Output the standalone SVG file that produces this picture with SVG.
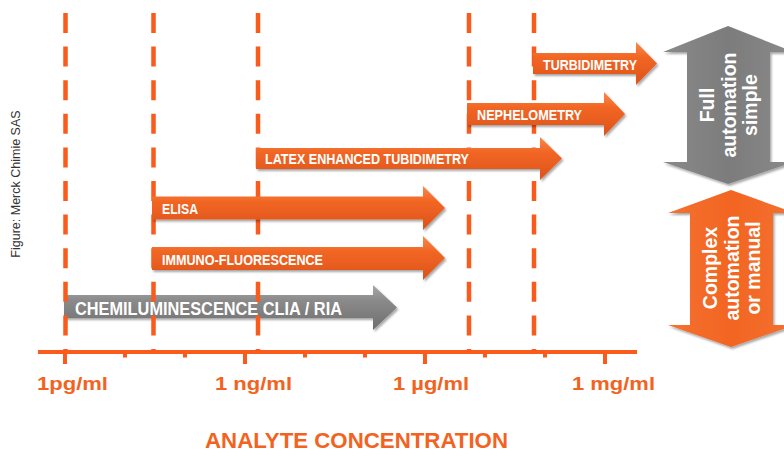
<svg xmlns="http://www.w3.org/2000/svg" width="784" height="452" viewBox="0 0 784 452">
<defs>
<linearGradient id="og" x1="0" y1="0" x2="0" y2="1">
<stop offset="0" stop-color="#F9894A"/>
<stop offset="0.35" stop-color="#F26624"/>
<stop offset="1" stop-color="#DD521A"/>
</linearGradient>
<linearGradient id="gg" x1="0" y1="0" x2="0" y2="1">
<stop offset="0" stop-color="#A8A8A8"/>
<stop offset="0.35" stop-color="#8A8A8A"/>
<stop offset="1" stop-color="#6E6E6E"/>
</linearGradient>
<linearGradient id="bg" x1="0" y1="0" x2="1" y2="0">
<stop offset="0" stop-color="#8A8A8A"/>
<stop offset="0.5" stop-color="#7C7C7C"/>
<stop offset="1" stop-color="#8A8A8A"/>
</linearGradient>
<linearGradient id="bo" x1="0" y1="0" x2="1" y2="0">
<stop offset="0" stop-color="#F47130"/>
<stop offset="0.5" stop-color="#F26522"/>
<stop offset="1" stop-color="#F47130"/>
</linearGradient>
<filter id="sh" x="-5%" y="-20%" width="110%" height="150%">
<feDropShadow dx="1.5" dy="2" stdDeviation="1.2" flood-color="#000" flood-opacity="0.35"/>
</filter>
</defs>
<style>
.dash{stroke:#F95B1C;stroke-width:4.5;stroke-dasharray:20 13.6;fill:none}
.axis{stroke:#F95B1C;stroke-width:4;fill:none}
.tick{stroke:#F95B1C;stroke-width:4;fill:none}
.oarrow{fill:url(#og);filter:url(#sh)}
.garrow{fill:url(#gg);filter:url(#sh)}
.lbl{font-family:"Liberation Sans",Arial,sans-serif;font-weight:bold;fill:#FFFFFF}
.ax{font-family:"Liberation Sans",Arial,sans-serif;font-weight:bold;fill:#F26322;font-size:17.5px}
.big{font-family:"Liberation Sans",Arial,sans-serif;font-weight:bold;fill:#FFFFFF;font-size:19.5px}
</style>
<rect width="784" height="452" fill="#FFFFFF"/>

<text x="0" y="0" transform="translate(19.5,184) rotate(-90)" text-anchor="middle" font-family="Liberation Sans, Arial, sans-serif" font-size="12.5" fill="#333333">Figure: Merck Chimie SAS</text>

<g id="chemiluminescence">
<polygon class="garrow" points="64,295 373,295 373,285 397,307.5 373,330 373,318 64,318"/>
<text class="lbl" x="75" y="315" font-size="18" textLength="267" lengthAdjust="spacingAndGlyphs">CHEMILUMINESCENCE CLIA / RIA</text>
</g>

<g id="connectors">
<line class="dash" x1="65.5" y1="13" x2="65.5" y2="351"/>
<line class="dash" x1="153.5" y1="13" x2="153.5" y2="351"/>
<line class="dash" x1="258" y1="13" x2="258" y2="351"/>
<line class="dash" x1="469" y1="13" x2="469" y2="351"/>
<line class="dash" x1="534" y1="13" x2="534" y2="351"/>
<line class="axis" x1="38" y1="352" x2="637" y2="352"/>
<path class="tick" d="M65,352V364M245,352V364M425,352V364M605,352V364"/>
<path class="tick" d="M125,352V357.5M185,352V357.5M305,352V357.5M365,352V357.5M485,352V357.5M545,352V357.5"/>
</g>

<g id="turbidimetry">
<polygon class="oarrow" points="533,53 636,53 636,42 657,63.5 636,85 636,74 533,74"/>
<text class="lbl" x="543" y="69.5" font-size="14.5" textLength="94" lengthAdjust="spacingAndGlyphs">TURBIDIMETRY</text>
</g>
<g id="nephelometry">
<polygon class="oarrow" points="467,103 604,103 604,92 625,114 604,136 604,125 467,125"/>
<text class="lbl" x="477" y="119.5" font-size="14.5" textLength="105" lengthAdjust="spacingAndGlyphs">NEPHELOMETRY</text>
</g>
<g id="latex">
<polygon class="oarrow" points="256,148 540,148 540,137 562,158.5 540,180 540,169 256,169"/>
<text class="lbl" x="265" y="164" font-size="14.5" textLength="204" lengthAdjust="spacingAndGlyphs">LATEX ENHANCED TUBIDIMETRY</text>
</g>
<g id="elisa">
<polygon class="oarrow" points="152,196.5 423,196.5 423,186 445,208 423,230 423,219.5 152,219.5"/>
<text class="lbl" x="162" y="214" font-size="14.5" textLength="36" lengthAdjust="spacingAndGlyphs">ELISA</text>
</g>
<g id="immunofluorescence">
<polygon class="oarrow" points="152,247 423,247 423,236 445,258 423,280 423,270 152,270"/>
<text class="lbl" x="162" y="264.5" font-size="14.5" textLength="161" lengthAdjust="spacingAndGlyphs">IMMUNO-FLUORESCENCE</text>
</g>

<g id="full-automation">
<polygon fill="url(#bg)" filter="url(#sh)" points="728,26 794,52 770,52 770,162 794,162 728,184 663,162 687,162 687,52 663,52"/>
<text class="big" text-anchor="middle" transform="translate(714,105) rotate(-90)">Full</text>
<text class="big" text-anchor="middle" transform="translate(735.5,105) rotate(-90)">automation</text>
<text class="big" text-anchor="middle" transform="translate(757,105) rotate(-90)">simple</text>
</g>
<g id="complex-automation">
<polygon fill="url(#bo)" filter="url(#sh)" points="731,190 795,213 773,213 773,325 795,325 731,347 668,325 690,325 690,213 668,213"/>
<text class="big" text-anchor="middle" transform="translate(717,268) rotate(-90)">Complex</text>
<text class="big" text-anchor="middle" transform="translate(739,268) rotate(-90)">automation</text>
<text class="big" text-anchor="middle" transform="translate(759.5,268) rotate(-90)">or manual</text>
</g>

<g id="axis-labels">
<text class="ax" x="37" y="390" textLength="71" lengthAdjust="spacingAndGlyphs">1pg/ml</text>
<text class="ax" x="215" y="390" textLength="77" lengthAdjust="spacingAndGlyphs">1 ng/ml</text>
<text class="ax" x="393" y="390" textLength="76" lengthAdjust="spacingAndGlyphs">1 µg/ml</text>
<text class="ax" x="572" y="390" textLength="83" lengthAdjust="spacingAndGlyphs">1 mg/ml</text>
<text x="205" y="447.5" font-family="Liberation Sans, Arial, sans-serif" font-weight="bold" font-size="22" fill="#F26322" textLength="303" lengthAdjust="spacingAndGlyphs">ANALYTE CONCENTRATION</text>
</g>
</svg>
